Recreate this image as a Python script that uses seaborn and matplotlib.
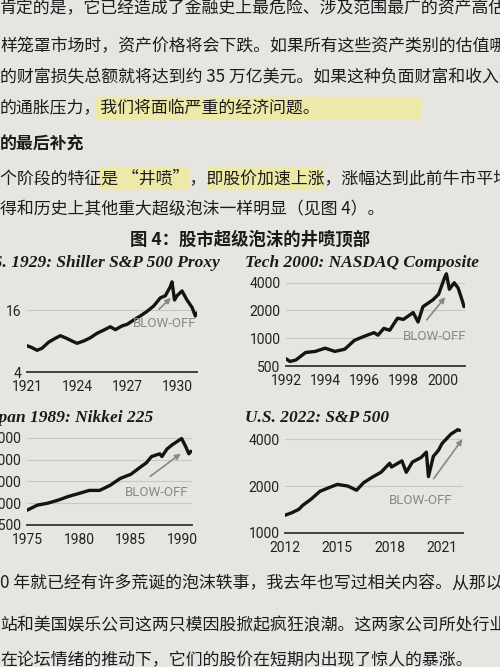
import matplotlib
matplotlib.use("Agg")
import matplotlib.pyplot as plt
import seaborn as sns
import numpy as np
import pandas as pd
from matplotlib.ticker import FixedLocator, NullLocator

sns.set_theme(style="white")
plt.rcParams['font.family'] = ['Noto Sans CJK SC', 'DejaVu Sans']

# ---- data ----
shiller_year = [1921.0,1921.3,1921.6,1921.9,1922.3,1922.7,1923.0,1923.3,1923.7,1924.0,1924.4,1924.8,1925.2,1925.6,1926.0,1926.3,1926.7,1927.0,1927.4,1927.8,1928.2,1928.6,1929.0,1929.3,1929.6,1929.7,1929.85,1930.0,1930.3,1930.6,1930.9,1931.1,1931.2]
shiller_val = [7.2,6.9,6.5,6.8,7.8,8.5,9.0,8.6,8.0,7.6,8.0,8.6,9.5,10.2,11.0,10.3,11.2,11.6,12.8,14.0,15.5,17.5,21,22,27,30,20,22,24.5,20,17,14,15]
nasdaq_year = [1992,1992.2,1992.5,1993,1993.5,1994,1994.5,1995,1995.5,1996,1996.5,1996.7,1997,1997.3,1997.7,1998,1998.5,1998.75,1999,1999.5,1999.8,2000.1,2000.2,2000.35,2000.6,2000.8,2001.0,2001.1]
nasdaq_val = [600,560,580,700,720,780,720,760,950,1050,1150,1080,1280,1220,1650,1600,1900,1500,2200,2600,3000,4500,5000,3400,4000,3500,2600,2200]
nikkei_year = [1975,1976,1977,1978,1979,1980,1981,1982,1983,1984,1985,1986,1986.5,1987,1987.8,1988,1988.5,1989,1989.9,1990.3,1990.6,1990.8]
nikkei_val = [4000,4700,5000,5500,6200,6800,7500,7500,8800,11000,12500,16000,18000,22000,24000,22000,28000,32000,39000,30000,24000,26000]
sp_year = [2012,2012.4,2012.8,2013,2013.5,2014,2014.5,2015,2015.6,2016.1,2016.5,2017,2017.5,2018.0,2018.1,2018.7,2018.95,2019.3,2019.8,2020.1,2020.22,2020.5,2020.8,2021,2021.5,2021.9,2022.0]
sp_val = [1300,1350,1420,1500,1650,1850,1950,2050,2000,1880,2100,2280,2450,2800,2650,2900,2450,2850,3050,3300,2300,3100,3400,3750,4300,4600,4550]

panels = [
    dict(title="U.S. 1929: Shiller S&P 500 Proxy", x=shiller_year, y=shiller_val,
         px=(27,197), py=(279,372), xlim=(1921,1931.2), ylim=(4,32),
         yt=[4,16], xt=[1921,1924,1927,1930], tx=-24, ty=263,
         bo=(165,323), arr=((157,311),(173,296))),
    dict(title="Tech 2000: NASDAQ Composite", x=nasdaq_year, y=nasdaq_val,
         px=(286,465), py=(270,366), xlim=(1992,2001.15), ylim=(500,5500),
         yt=[500,1000,2000,4000], xt=[1992,1994,1996,1998,2000], tx=245, ty=263,
         bo=(435,336), arr=((425,322),(447,295))),
    dict(title="Japan 1989: Nikkei 225", x=nikkei_year, y=nikkei_val,
         px=(27,192), py=(434,525), xlim=(1975,1990.9), ylim=(2500,45000),
         yt=[2500,5000,10000,20000,40000], xt=[1975,1980,1985,1990], tx=-19, ty=418,
         bo=(157,492), arr=((148,478),(183,452))),
    dict(title="U.S. 2022: S&P 500", x=sp_year, y=sp_val,
         px=(285,463), py=(424,533), xlim=(2012,2022.2), ylim=(1000,5000),
         yt=[1000,2000,4000], xt=[2012,2015,2018,2021], tx=245, ty=418,
         bo=(421,501), arr=((432,481),(464,437))),
]

W, H = 500, 667
fig = plt.figure(figsize=(5, 6.67), dpi=100)
fig.patch.set_facecolor("#e7e5e2")

def fy(y):  # top-based pixels -> figure fraction
    return 1 - y / H

for p in panels:
    x0, x1 = p["px"]; y0, y1 = p["py"]
    ax = fig.add_axes([x0 / W, fy(y1), (x1 - x0) / W, (y1 - y0) / H])
    ax.set_facecolor("none")
    df = pd.DataFrame({"x": p["x"], "y": p["y"]})
    sns.lineplot(data=df, x="x", y="y", ax=ax, color="#141414", lw=2.4)
    ax.set_yscale("log")
    ax.set_xlim(*p["xlim"]); ax.set_ylim(*p["ylim"])
    ax.yaxis.set_major_locator(FixedLocator(p["yt"]))
    ax.yaxis.set_minor_locator(NullLocator())
    ax.set_yticklabels([str(v) for v in p["yt"]])
    ax.set_xticks(p["xt"])
    ax.set_xticklabels([str(v) for v in p["xt"]])
    ax.tick_params(axis="both", length=0, labelsize=10, colors="#222222", pad=4)
    ax.tick_params(axis="x", pad=6)
    for s in ["top", "right", "left"]:
        ax.spines[s].set_visible(False)
    ax.spines["bottom"].set_color("#333333"); ax.spines["bottom"].set_linewidth(1.3)
    ax.grid(axis="y", color="#c9c7c4", lw=0.8)
    ax.set_xlabel(""); ax.set_ylabel("")
    for lab in ax.get_xticklabels() + ax.get_yticklabels():
        lab.set_fontfamily(["Roboto", "DejaVu Sans"])
    fig.text(p["tx"] / W, fy(p["ty"]), p["title"],
             fontfamily="Liberation Serif", fontstyle="italic", fontweight="bold",
             fontsize=12.5, color="#1a1a1a", va="center")
    fig.text(p["bo"][0] / W, fy(p["bo"][1]), "BLOW-OFF", fontsize=9.5,
             color="#8a8886", ha="center", va="center", fontfamily=["Roboto", "DejaVu Sans"])
    (ax0, ay0), (ax1, ay1) = p["arr"]
    fig.add_artist(matplotlib.patches.FancyArrowPatch(
        (ax0 / W, fy(ay0)), (ax1 / W, fy(ay1)), transform=fig.transFigure,
        arrowstyle="-|>", mutation_scale=8, color="#8a8886", lw=1.2))

fig.text(0.5, fy(240), "图 4：股市超级泡沫的井喷顶部", ha="center", va="center",
         fontsize=12.5, fontweight="bold", color="#1a1a1a")

lines = [
    (8, "肯定的是，它已经造成了金融史上最危险、涉及范围最广的资产高估。", False),
    (46, "样笼罩市场时，资产价格将会下跌。如果所有这些资产类别的估值哪怕", False),
    (77, "的财富损失总额就将达到约 35 万亿美元。如果这种负面财富和收入效", False),
    (108, "的通胀压力，我们将面临严重的经济问题。", False),
    (145, "的最后补充", True),
    (178, "个阶段的特征是 “井喷”，即股价加速上涨，涨幅达到此前牛市平均水", False),
    (209, "得和历史上其他重大超级泡沫一样明显（见图 4）。", False),
    (583, "0 年就已经有许多荒诞的泡沫轶事，我去年也写过相关内容。从那以后", False),
    (625, "站和美国娱乐公司这两只模因股掀起疯狂浪潮。这两家公司所处行业本就", False),
    (660, "在论坛情绪的推动下，它们的股价在短期内出现了惊人的暴涨。", False),
]
for y, t, b in lines:
    fig.text(0.0, fy(y), t, fontsize=12.2, va="center", color="#1c1c1c",
             fontweight="bold" if b else "normal")

# highlights
for (x0, x1, y) in [(95, 420, 108), (100, 188, 178), (208, 322, 178)]:
    fig.add_artist(matplotlib.patches.Rectangle((x0 / W, fy(y + 11)), (x1 - x0) / W, 22 / H,
                   transform=fig.transFigure, color="#f3ef7a", alpha=0.55, zorder=-1))

fig.savefig("out.png", dpi=100, facecolor=fig.get_facecolor())
